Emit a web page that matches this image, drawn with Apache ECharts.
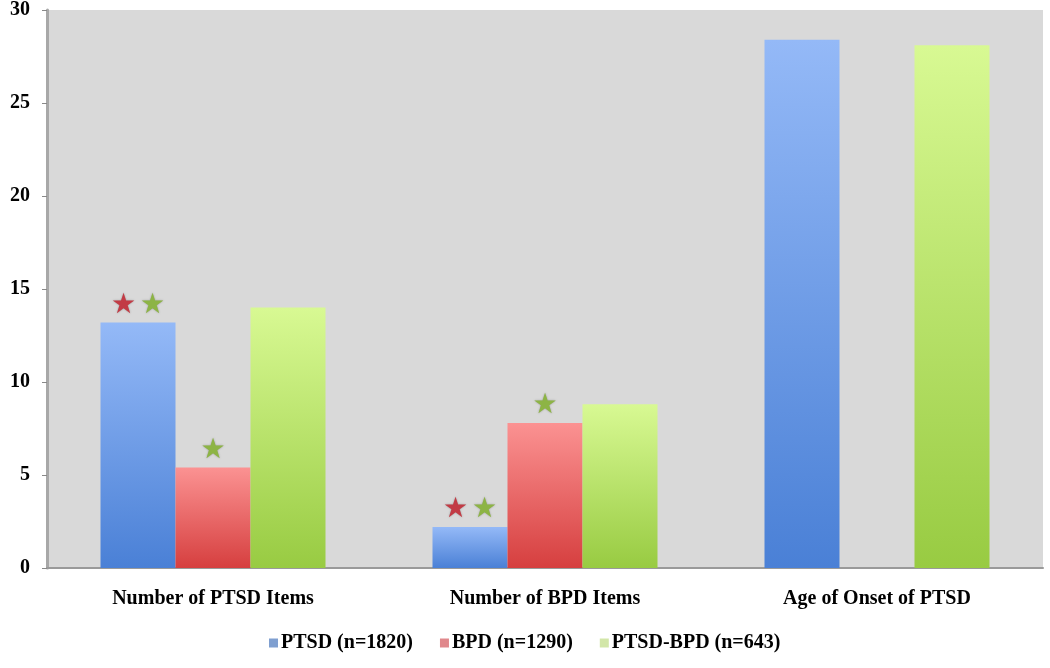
<!DOCTYPE html>
<html>
<head>
<meta charset="utf-8">
<script src="https://cdn.jsdelivr.net/npm/echarts@6/dist/echarts.min.js"></script>
<style>
  html, body { margin: 0; padding: 0; background: #fff; }
  #chart { width: 1050px; height: 668px; }
</style>
</head>
<body>
<div id="chart"></div>
<script>
const categories = ["Number of PTSD Items", "Number of BPD Items", "Age of Onset of PTSD"];
const seriesNames = ["PTSD (n=1820)", "BPD (n=1290)", "PTSD-BPD (n=643)"];
const ptsd = [13.2, 2.2, 28.4];
const bpd = [5.4, 7.8, null];
const ptsdBpd = [14.0, 8.8, 28.1];
// significance stars above each bar: r = differs from BPD, g = differs from PTSD-BPD
const ptsdStars = ["rg", "rg", ""];
const bpdStars = ["g", "g", ""];
const ptsdBpdStars = ["", "", ""];
const yTicks = [0, 5, 10, 15, 20, 25, 30];

const serif = "'Liberation Serif', 'DejaVu Serif', serif";

const grad = (top, bottom) => new echarts.graphic.LinearGradient(0, 0, 0, 1, [
  { offset: 0, color: top },
  { offset: 1, color: bottom }
]);

const starLabel = stars => ({
  show: true,
  position: "top",
  distance: 3,
  formatter: p => {
    const s = stars[p.dataIndex];
    if (!s) return "";
    return s.split("").map(c => "{" + c + "|★}").join("{sp|}");
  },
  rich: {
    r: { color: "#c23b45", fontSize: 28, fontFamily: "DejaVu Sans", textShadowColor: "rgba(0,0,0,0.3)", textShadowBlur: 2 },
    g: { color: "#8db445", fontSize: 28, fontFamily: "DejaVu Sans", textShadowColor: "rgba(0,0,0,0.3)", textShadowBlur: 2 },
    sp: { width: 4 }
  }
});

const chart = echarts.init(document.getElementById("chart"));
chart.setOption({
  animation: false,
  backgroundColor: "#fff",
  grid: {
    left: 47, right: 7, top: 9, bottom: 100,
    show: true, backgroundColor: "#d9d9d9", borderWidth: 0
  },
  legend: {
    top: 628,
    left: 264,
    itemWidth: 9,
    itemHeight: 9,
    itemGap: 27,
    icon: "rect",
    textStyle: { fontFamily: serif, fontWeight: "bold", fontSize: 20, color: "#000", padding: [0, 0, 0, -2] },
    data: [
      { name: seriesNames[0], itemStyle: { color: "#7f9fd0" } },
      { name: seriesNames[1], itemStyle: { color: "#e0888c" } },
      { name: seriesNames[2], itemStyle: { color: "#d2e6a8" } }
    ]
  },
  xAxis: {
    type: "category",
    data: categories,
    axisLine: { lineStyle: { color: "#9a9a9a", width: 2 } },
    axisTick: { show: false },
    axisLabel: { margin: 21, fontFamily: serif, fontWeight: "bold", fontSize: 20, color: "#000" }
  },
  yAxis: {
    type: "value",
    min: 0,
    max: 30,
    interval: 5,
    axisLine: { show: true, lineStyle: { color: "#a8a8a8", width: 3 } },
    axisTick: { show: true, length: 5, lineStyle: { color: "#888" } },
    splitLine: { show: false },
    axisLabel: {
      margin: 17,
      fontFamily: serif, fontWeight: "bold", fontSize: 20, color: "#000",
      formatter: v => yTicks.includes(v) ? String(v) : ""
    }
  },
  series: [
    {
      name: seriesNames[0], type: "bar", data: ptsd,
      barWidth: 75, barGap: "0%",
      itemStyle: { color: grad("#94b9f7", "#4a80d6") },
      label: starLabel(ptsdStars)
    },
    {
      name: seriesNames[1], type: "bar", data: bpd,
      barWidth: 75, barGap: "0%",
      itemStyle: { color: grad("#fb9292", "#d63f3f") },
      label: starLabel(bpdStars)
    },
    {
      name: seriesNames[2], type: "bar", data: ptsdBpd,
      barWidth: 75, barGap: "0%",
      itemStyle: { color: grad("#d8f993", "#98cb42") },
      label: starLabel(ptsdBpdStars)
    }
  ]
});
</script>
</body>
</html>
